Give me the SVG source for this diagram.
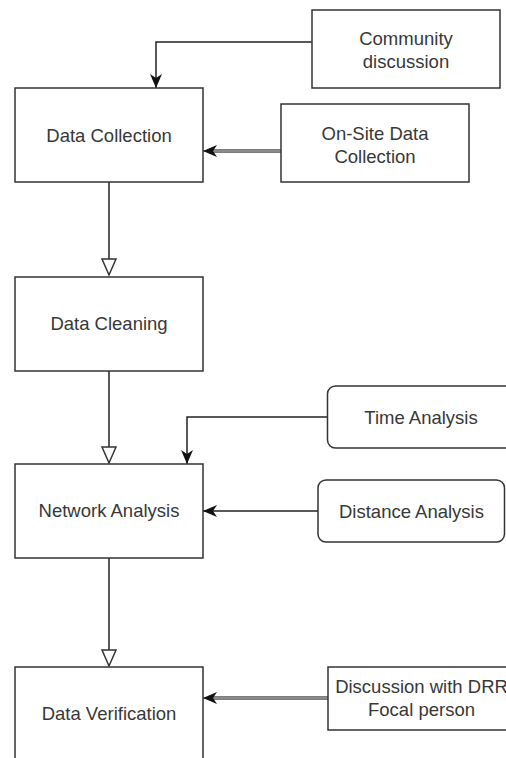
<svg xmlns="http://www.w3.org/2000/svg" width="506" height="758" viewBox="0 0 506 758">
  <style>
    .box { fill: #ffffff; stroke: #333333; stroke-width: 1.5; }
    .lbl { font-family: "Liberation Sans", Arial, Helvetica, sans-serif; font-size: 18.5px; fill: #383838; text-anchor: middle; }
    .edge { fill: none; stroke: #222222; stroke-width: 1.5; }
    .flow { marker-end: url(#open); }
    .feed { marker-end: url(#filled); }
    .gray-outer { fill: none; stroke: #505050; stroke-width: 3.5; }
    .gray-inner { fill: none; stroke: #8a8a8a; stroke-width: 1.8; }
  </style>
  <defs>
    <marker id="filled" markerUnits="userSpaceOnUse" markerWidth="16" markerHeight="14" refX="14" refY="6" orient="auto" overflow="visible">
      <path d="M0,0 L14,6 L0,12 L4,6 Z" fill="#111111" stroke="none"/>
    </marker>
    <marker id="open" markerUnits="userSpaceOnUse" markerWidth="18" markerHeight="16" refX="16" refY="7" orient="auto" overflow="visible">
      <path d="M0,0 L16,7 L0,14 Z" fill="#ffffff" stroke="#333333" stroke-width="1.5" stroke-linejoin="miter"/>
    </marker>
  </defs>
  <rect width="506" height="758" fill="#ffffff"/>

  <g id="connectors">
    <path class="edge flow" d="M109,182 V275"/>
    <path class="edge flow" d="M109,371 V463"/>
    <path class="edge flow" d="M109,558 V666"/>
    <path class="edge feed" d="M312,42 H156 V88"/>
    <path class="gray-outer" d="M281,151 H210"/>
    <path class="gray-inner feed" d="M281,151 H203"/>
    <path class="edge feed" d="M327.5,417 H187 V464"/>
    <path class="edge feed" d="M318,511 H203"/>
    <path class="gray-outer" d="M328,698 H210"/>
    <path class="gray-inner feed" d="M328,698 H203"/>
  </g>

  <g id="data-collection">
    <rect class="box" x="15" y="88" width="188" height="94"/>
    <text class="lbl" x="109" y="142">Data Collection</text>
  </g>
  <g id="data-cleaning">
    <rect class="box" x="15" y="277" width="188" height="94"/>
    <text class="lbl" x="109" y="330">Data Cleaning</text>
  </g>
  <g id="network-analysis">
    <rect class="box" x="15" y="464" width="188" height="94"/>
    <text class="lbl" x="109" y="517">Network Analysis</text>
  </g>
  <g id="data-verification">
    <rect class="box" x="15" y="667" width="188" height="100"/>
    <text class="lbl" x="109" y="719.5">Data Verification</text>
  </g>
  <g id="community-discussion">
    <rect class="box" x="312" y="10" width="188" height="78"/>
    <text class="lbl" x="406" y="44.5">Community</text>
    <text class="lbl" x="406" y="67.5">discussion</text>
  </g>
  <g id="on-site-data-collection">
    <rect class="box" x="281" y="104" width="188" height="78"/>
    <text class="lbl" x="375" y="140">On-Site Data</text>
    <text class="lbl" x="375" y="163">Collection</text>
  </g>
  <g id="time-analysis">
    <rect class="box" x="327.5" y="386" width="190" height="62" rx="8" ry="8"/>
    <text class="lbl" x="421" y="424">Time Analysis</text>
  </g>
  <g id="distance-analysis">
    <rect class="box" x="318" y="480" width="186.5" height="62" rx="8" ry="8"/>
    <text class="lbl" x="411.5" y="517.5">Distance Analysis</text>
  </g>
  <g id="drr-discussion">
    <rect class="box" x="328" y="667" width="188" height="63"/>
    <text class="lbl" x="421.5" y="692.5">Discussion with DRR</text>
    <text class="lbl" x="421.5" y="716">Focal person</text>
  </g>
</svg>
